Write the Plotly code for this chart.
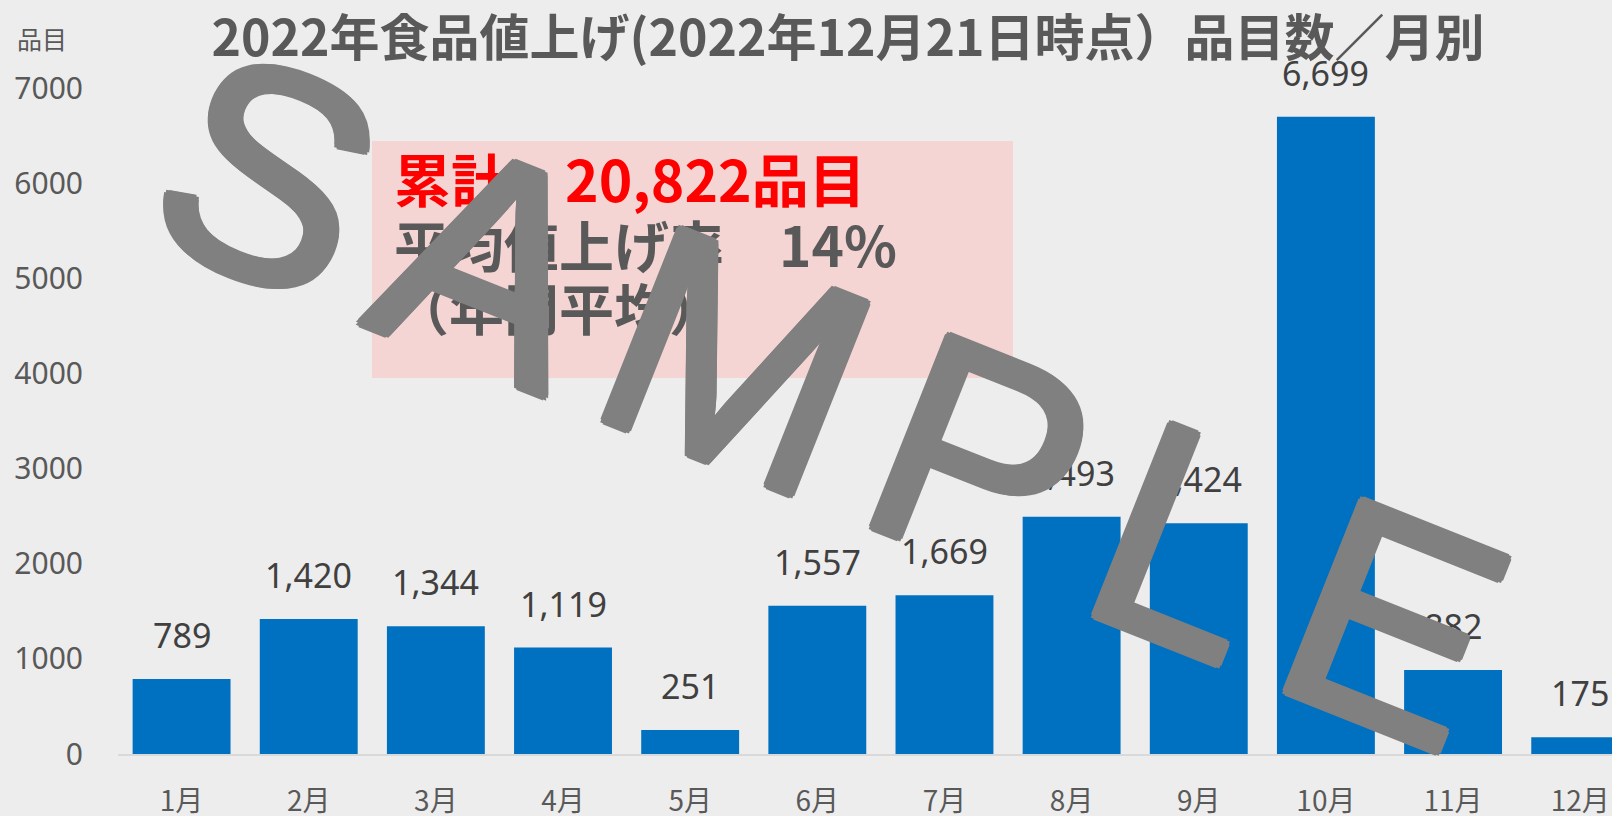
import plotly.graph_objects as go

months = ["1月", "2月", "3月", "4月", "5月", "6月", "7月", "8月", "9月", "10月", "11月", "12月"]
counts = [789, 1420, 1344, 1119, 251, 1557, 1669, 2493, 2424, 6699, 882, 175]
y_ticks = [0, 1000, 2000, 3000, 4000, 5000, 6000, 7000]

title_text = "2022年食品値上げ(2022年12月21日時点）品目数／月別"
unit_text = "品目"
total_text = "累計　20,822品目"
rate_text = "平均値上げ率　14%"
period_text = "（年間平均）"
watermark = "SAMPLE"

W, H = 1612, 816
L, R, T, B = 118, 0, 88, 62
PW, PH = W - L - R, H - T - B

def px(x):
    return (x - L) / PW

def py(y):
    return (H - B - y) / PH

FONT = "Noto Sans, Noto Sans CJK JP, sans-serif"
CJK = "Noto Sans CJK JP, Noto Sans, sans-serif"
WM = "#808080"
wm_shadow = ", ".join(f"{dx}px {dy}px 0 {WM}" for dx, dy in
                      [(4, 0), (-4, 0), (0, 4), (0, -4), (3, 3), (-3, 3), (3, -3), (-3, -3)])

fig = go.Figure()
fig.add_trace(go.Bar(x=months, y=counts, marker=dict(color="#0070c0", line=dict(width=0)),
                     hoverinfo="x+y"))

annotations = []
for m, v in zip(months, counts):
    annotations.append(dict(x=m, y=v, xref="x", yref="y", text=f"{v:,}", showarrow=False,
                            yanchor="middle", yshift=44,
                            font=dict(family=FONT, size=34, color="#404040")))

annotations += [
    dict(x=px(15), y=1, xref="paper", yref="paper", text=unit_text, showarrow=False,
         xanchor="left", yanchor="middle", yshift=T - 38,
         font=dict(family=CJK, size=25, color="#595959")),
    dict(x=px(392), y=py(177), xref="paper", yref="paper", text=total_text, showarrow=False,
         xanchor="left", yanchor="middle",
         font=dict(family=CJK, size=57, color="#ff0000", weight="bold")),
    dict(x=px(392), y=py(243), xref="paper", yref="paper", text=rate_text, showarrow=False,
         xanchor="left", yanchor="middle",
         font=dict(family=CJK, size=55, color="#595959", weight="bold")),
    dict(x=px(392), y=py(306), xref="paper", yref="paper", text=period_text, showarrow=False,
         xanchor="left", yanchor="middle",
         font=dict(family=CJK, size=55, color="#595959", weight="bold")),
    dict(x=px(849), y=py(406), xref="paper", yref="paper",
         text='<span style="letter-spacing:39px">' + watermark + '</span>', showarrow=False,
         xanchor="center", yanchor="middle", textangle=21.7,
         font=dict(family="Liberation Sans, Arial, sans-serif", size=300, color=WM,
                   shadow=wm_shadow)),
]

shapes = [dict(type="rect", xref="paper", yref="paper", x0=px(372), x1=px(1013),
               y0=py(378), y1=py(141), fillcolor="#f4d5d3", line=dict(width=0), layer="below")]

fig.update_layout(
    width=W, height=H,
    margin=dict(l=L, r=R, t=T, b=B, autoexpand=False),
    paper_bgcolor="#ededed", plot_bgcolor="#ededed",
    bargap=0.23,
    showlegend=False,
    title=dict(text=title_text, x=848 / W, xanchor="center", xref="container",
               y=1 - 38 / H, yanchor="middle", yref="container",
               font=dict(family=CJK, size=50, color="#595959", weight="bold")),
    xaxis=dict(range=[-0.5, 11.25], showgrid=False, showline=True, linecolor="#d9d9d9",
               linewidth=2, ticks="", ticklabelstandoff=21, automargin=False,
               tickfont=dict(family=CJK, size=28, color="#595959")),
    yaxis=dict(range=[0, 7000], tickvals=y_ticks, showgrid=False, zeroline=False, showline=False,
               ticks="", ticklabelstandoff=34, automargin=False,
               tickfont=dict(family=FONT, size=30, color="#595959")),
    annotations=annotations,
    shapes=shapes,
)

fig.write_html("out.html", config={"displayModeBar": False},
               post_script="document.body.style.margin='0';document.body.style.overflow='hidden';")
